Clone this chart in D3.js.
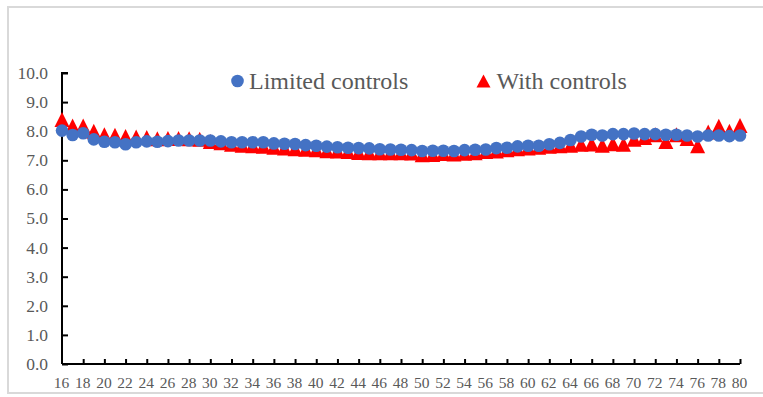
<!DOCTYPE html>
<html><head><meta charset="utf-8">
<script src="https://cdn.jsdelivr.net/npm/d3@7"></script>
<style>body{margin:0;background:#fff;}svg{display:block;} text{font-family:"Liberation Serif","Times New Roman",Tinos,"DejaVu Serif",serif;}</style>
</head><body>
<script>
const ages = d3.range(16, 81);
const limitedControls = [8.02,7.87,7.93,7.72,7.64,7.62,7.55,7.62,7.65,7.64,7.66,7.68,7.68,7.68,7.68,7.65,7.62,7.62,7.62,7.62,7.58,7.57,7.56,7.52,7.5,7.47,7.45,7.43,7.42,7.41,7.38,7.37,7.36,7.35,7.32,7.33,7.33,7.32,7.35,7.36,7.37,7.42,7.43,7.48,7.5,7.5,7.55,7.6,7.7,7.82,7.88,7.85,7.9,7.9,7.92,7.9,7.9,7.88,7.88,7.85,7.82,7.85,7.85,7.83,7.85];
const withControls = [8.4,8.18,8.18,8.0,7.88,7.86,7.82,7.8,7.78,7.74,7.75,7.75,7.74,7.72,7.65,7.6,7.55,7.52,7.5,7.48,7.45,7.42,7.4,7.38,7.36,7.33,7.32,7.3,7.27,7.26,7.26,7.26,7.26,7.25,7.19,7.2,7.23,7.22,7.24,7.26,7.3,7.32,7.36,7.4,7.42,7.45,7.48,7.5,7.52,7.55,7.56,7.52,7.57,7.55,7.72,7.78,7.88,7.65,7.88,7.75,7.5,7.97,8.17,8.0,8.2];
const yTicks = d3.range(0, 10.01, 1);
const xTickLabels = d3.range(16, 81, 2);
const seriesNames = ["Limited controls", "With controls"];

const W = 763, H = 397;
const svg = d3.select("body").append("svg").attr("width", W).attr("height", H);
svg.append("rect").attr("x", 8).attr("y", 7).attr("width", 800).attr("height", 386)
  .attr("fill", "#fff").attr("stroke", "#d9d9d9").attr("stroke-width", 2);

const x = d3.scaleLinear().domain([16, 80]).range([62, 740]);
const y = d3.scaleLinear().domain([0, 10]).range([364, 73]);

// y axis
const yAx = svg.append("g").attr("transform", `translate(${x(16)},0)`)
  .call(d3.axisRight(y).tickValues(yTicks).tickSize(6).tickFormat(""));
yAx.select(".domain").attr("stroke", "#000").attr("stroke-width", 2).attr("d", `M6,${y(10)}H0V${y(0)}`);
yAx.selectAll(".tick line").attr("stroke", "#000").attr("stroke-width", 2);
svg.append("g").selectAll("text").data(yTicks).join("text")
  .attr("x", 48).attr("y", d => y(d)).attr("dy", "0.34em").attr("text-anchor", "end")
  .attr("font-size", 17.5).attr("fill", "#595959")
  .text(d => d.toFixed(1));

// x axis
const xAx = svg.append("g").attr("transform", `translate(0,${y(0)})`)
  .call(d3.axisTop(x).tickValues(xTickLabels.filter(d => d > 16)).tickSize(5).tickFormat(""));
xAx.select(".domain").attr("stroke", "#000").attr("stroke-width", 2).attr("d", `M${x(16)},0H${x(80)}`);
xAx.selectAll(".tick line").attr("stroke", "#000").attr("stroke-width", 2);
svg.append("g").selectAll("text").data(xTickLabels).join("text")
  .attr("x", d => x(d) - 0.5).attr("y", 383).attr("dy", "0.34em").attr("text-anchor", "middle")
  .attr("font-size", 15.5).attr("fill", "#595959")
  .text(d => d);

const tri = (w, h) => `M0,${-h/2}L${w/2},${h/2}L${-w/2},${h/2}Z`;

// red triangles
svg.append("g").selectAll("path").data(ages.map((a, i) => [a, withControls[i]])).join("path")
  .attr("transform", d => `translate(${x(d[0])},${y(d[1])})`)
  .attr("d", tri(15, 15)).attr("fill", "#ff0000");

// blue circles
svg.append("g").selectAll("circle").data(ages.map((a, i) => [a, limitedControls[i]])).join("circle")
  .attr("cx", d => x(d[0])).attr("cy", d => y(d[1])).attr("r", 6.3).attr("fill", "#4472c4");

// legend
const lg = svg.append("g");
lg.append("circle").attr("cx", 237.5).attr("cy", 81).attr("r", 6.3).attr("fill", "#4472c4");
lg.append("text").attr("x", 249).attr("y", 81).attr("dy", "0.33em")
  .attr("font-size", 24).attr("fill", "#595959").text(seriesNames[0]);
lg.append("path").attr("transform", "translate(483.5,81)").attr("d", tri(14, 13)).attr("fill", "#ff0000");
lg.append("text").attr("x", 496.5).attr("y", 81).attr("dy", "0.33em")
  .attr("font-size", 24).attr("fill", "#595959").text(seriesNames[1]);
</script>
</body></html>
